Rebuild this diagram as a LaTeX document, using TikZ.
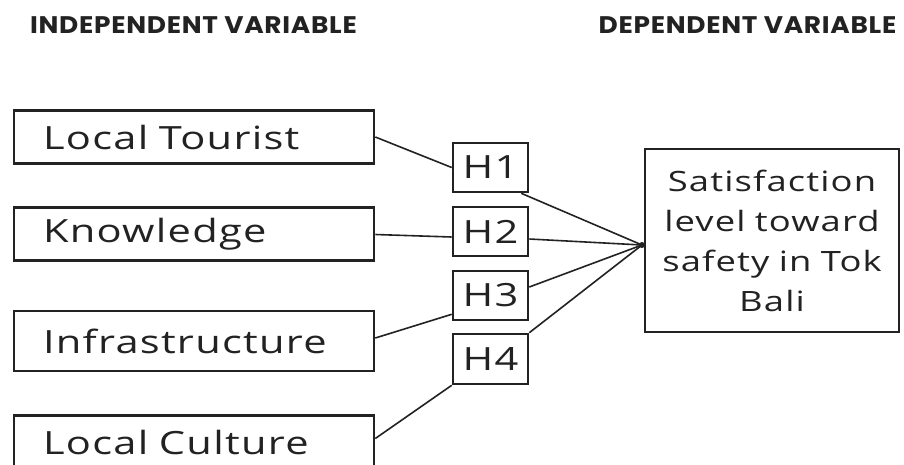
\documentclass[tikz,border=0pt]{standalone}
\usepackage{fontspec}
\setmainfont{Open Sans}[FakeStretch=1.3, LetterSpace=4]
\newfontfamily\headfont{Poppins}[FakeStretch=1.1, LetterSpace=3]
\usetikzlibrary{calc}
\definecolor{ink}{HTML}{222222}
\tikzset{
  varbox/.style={draw=ink, line width=2.6pt, rectangle, minimum width=360pt, minimum height=53pt,
    inner xsep=29pt, text width=302pt, align=left, font=\fontsize{32}{36}\selectfont, text=ink},
  hbox/.style={draw=ink, line width=2.6pt, rectangle, minimum width=75pt, minimum height=49pt,
    inner sep=0pt, font=\fontsize{32}{36}\selectfont, text=ink},
  depbox/.style={draw=ink, line width=2.6pt, rectangle, minimum width=254pt, minimum height=183pt,
    inner sep=0pt, text width=250pt, align=center, font=\fontsize{28}{40}\selectfont, text=ink},
  head/.style={font=\headfont\bfseries\fontsize{24}{26}\selectfont, text=ink, inner sep=0pt},
  conn/.style={draw=ink, line width=1.6pt}
}
\begin{document}
\begin{tikzpicture}[x=1pt, y=-1pt]
\clip (0,0) rectangle (904,464);
\fill[white] (0,0) rectangle (904,464);
\node[head] (hind) at (193.5,25) {INDEPENDENT VARIABLE};
\node[head] (hdep) at (747.5,25) {DEPENDENT VARIABLE};

\node[varbox] (v1) at (194,137) {Local Tourist};
\node[varbox] (v2) at (194,234) {Knowledge};
\node[varbox, minimum height=60pt] (v3) at (194,341) {Infrastructure};
\node[varbox] (v4) at (194,442) {Local Culture};

\node[hbox] (h1) at (490.5,167.5) {H1};
\node[hbox] (h2) at (490.5,231.5) {H2};
\node[hbox] (h3) at (490.5,295.5) {H3};
\node[hbox, minimum height=50pt] (h4) at (490.5,359) {H4};

\node[depbox] (dep) at (772,240.5) {Satisfaction\\level toward\\safety in Tok\\Bali};
\coordinate (pt) at (642,245);

\draw[conn] (v1.east) -- (h1.west);
\draw[conn] ([yshift=-0.5pt]v2.east) -- ([yshift=-5.5pt]h2.west);
\draw[conn] ([yshift=3pt]v3.east) -- ([yshift=7pt]h3.south west);
\draw[conn] ([yshift=3.5pt]v4.east) -- (h4.south west);

\draw[conn] ([xshift=-8pt]h1.south east) -- (pt);
\draw[conn] ([yshift=-7.5pt]h2.east) -- (pt);
\draw[conn] ([yshift=8.5pt]h3.east) -- (pt);
\draw[conn] (h4.north east) -- (pt);
\fill[ink] (pt) circle (3pt);
\end{tikzpicture}
\end{document}
